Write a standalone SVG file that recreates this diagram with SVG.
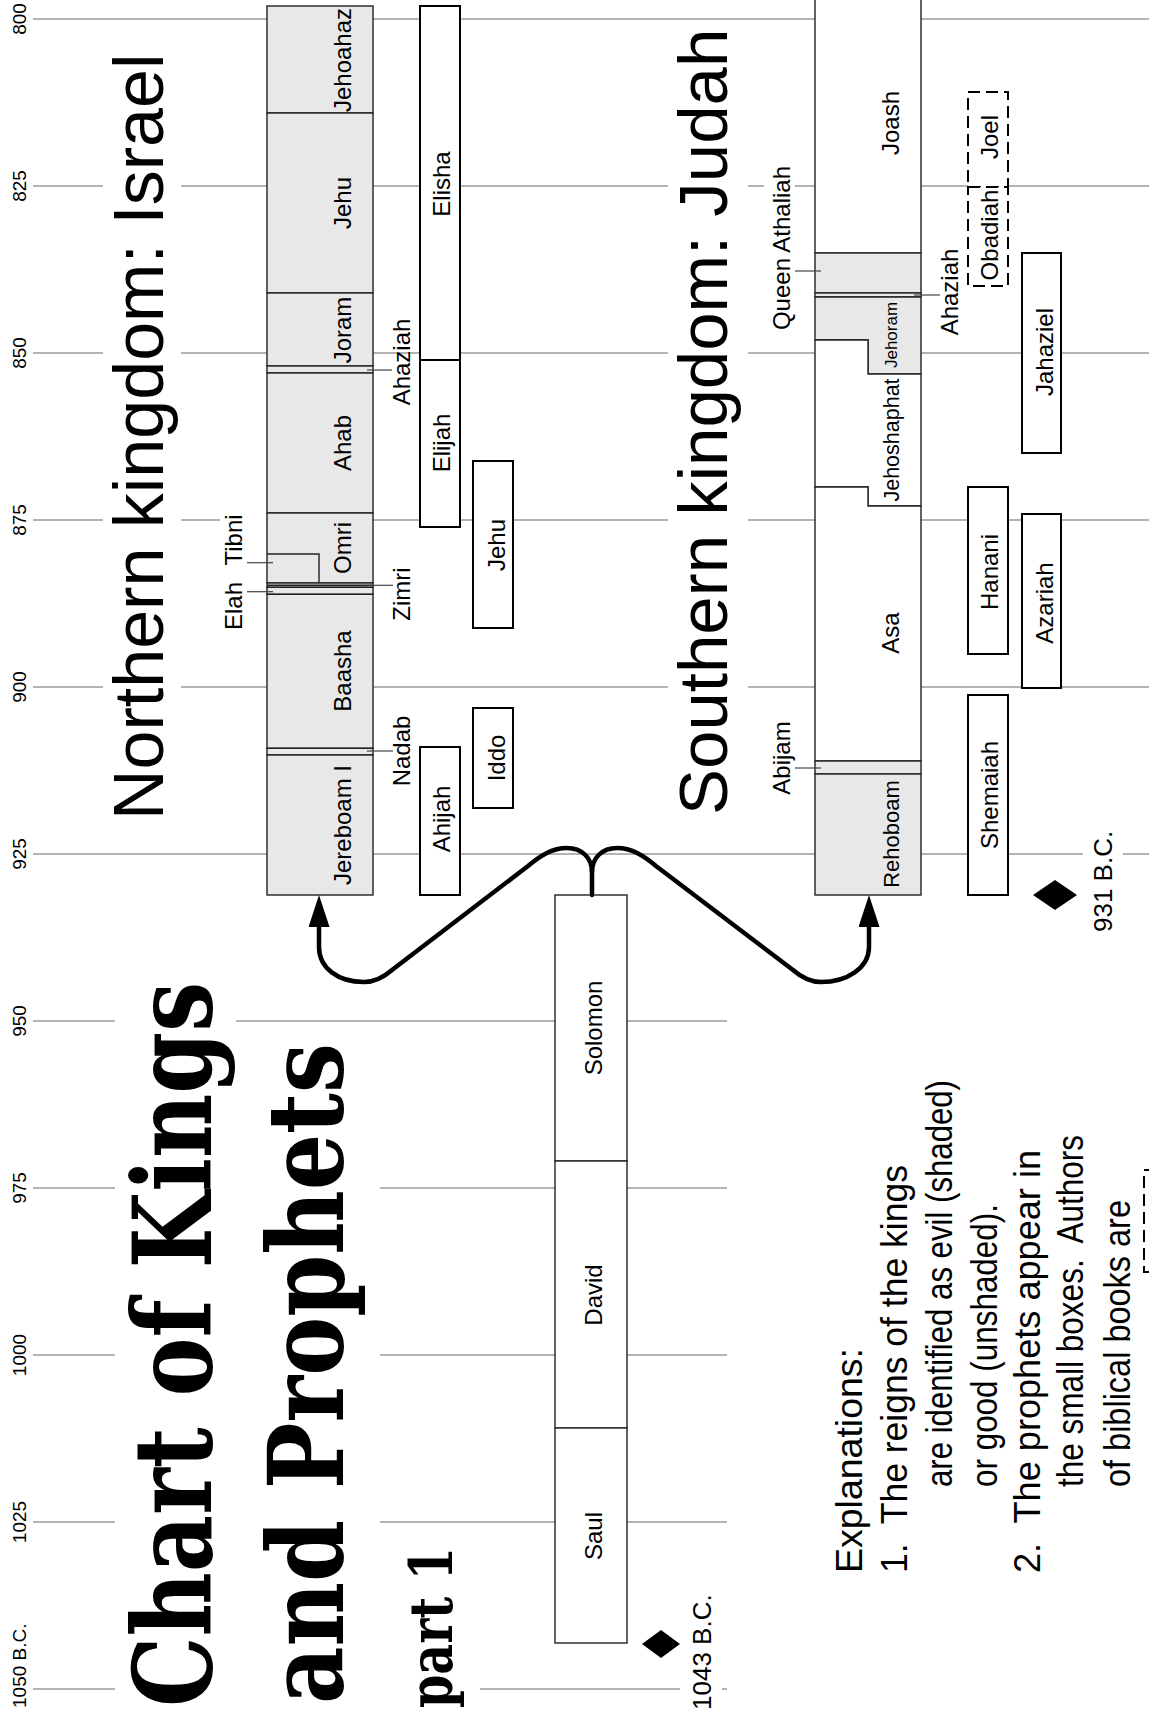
<svg xmlns="http://www.w3.org/2000/svg" width="1149" height="1716" viewBox="0 0 1149 1716">
<style>
.grid{stroke:#9a9a9a;stroke-width:1.3;fill:none}
.bg{fill:#fff;stroke:none}
.king{stroke:#222;stroke-width:1.4;fill:#fff}
.evil{fill:#e8e8e8}
.proph{fill:#fff;stroke:#000;stroke-width:2}
.dash{fill:#fff;stroke:#000;stroke-width:2;stroke-dasharray:12 6}
.lead{stroke:#444;stroke-width:1.2;fill:none}
text{font-family:"Liberation Sans",Arial,sans-serif;fill:#000}
.yr{font-size:19px;text-anchor:middle}
.lbl{font-size:24px;text-anchor:middle}
.big{font-size:70px}
.ttl{font-family:"DejaVu Serif","Liberation Serif",serif;font-weight:bold}
.expl{font-size:37px}
.date{font-size:26px}
.conn{fill:none;stroke:#000;stroke-width:4.5;stroke-linecap:round;stroke-linejoin:round}
</style>
<defs>
<marker id="arrow" markerUnits="userSpaceOnUse" viewBox="0 0 32 21" refX="0" refY="10.5" markerWidth="32" markerHeight="21" orient="auto">
<path d="M0,0 L32,10.5 L0,21 Z" fill="#000"/>
</marker>
</defs>

<g id="grid">
<line class="grid" x1="33" y1="19" x2="1149" y2="19"/>
<line class="grid" x1="33" y1="186" x2="1149" y2="186"/>
<line class="grid" x1="33" y1="353" x2="1149" y2="353"/>
<line class="grid" x1="33" y1="520" x2="1149" y2="520"/>
<line class="grid" x1="33" y1="687" x2="1149" y2="687"/>
<line class="grid" x1="33" y1="854" x2="1149" y2="854"/>
<line class="grid" x1="33" y1="1021" x2="727" y2="1021"/>
<line class="grid" x1="33" y1="1188" x2="727" y2="1188"/>
<line class="grid" x1="33" y1="1355" x2="727" y2="1355"/>
<line class="grid" x1="33" y1="1522" x2="727" y2="1522"/>
<line class="grid" x1="33" y1="1689" x2="727" y2="1689"/>
</g>

<g id="backdrops">
<rect class="bg" x="103" y="50" width="78" height="776"/>
<rect class="bg" x="668" y="24" width="80" height="798"/>
<rect class="bg" x="220" y="512" width="46" height="56"/>
<rect class="bg" x="764" y="158" width="31" height="180"/>
<rect class="bg" x="1083" y="828" width="40" height="108"/>
<rect class="bg" x="680" y="1580" width="42" height="136"/>
<rect class="bg" x="115" y="975" width="121" height="741"/>
<rect class="bg" x="236" y="1035" width="144" height="681"/>
<rect class="bg" x="380" y="1540" width="100" height="176"/>
</g>

<g id="years">
<text class="yr" transform="translate(26,19) rotate(-90)">800</text>
<text class="yr" transform="translate(26,186) rotate(-90)">825</text>
<text class="yr" transform="translate(26,353) rotate(-90)">850</text>
<text class="yr" transform="translate(26,520) rotate(-90)">875</text>
<text class="yr" transform="translate(26,687) rotate(-90)">900</text>
<text class="yr" transform="translate(26,854) rotate(-90)">925</text>
<text class="yr" transform="translate(26,1021) rotate(-90)">950</text>
<text class="yr" transform="translate(26,1188) rotate(-90)">975</text>
<text class="yr" transform="translate(26,1355) rotate(-90)">1000</text>
<text class="yr" transform="translate(26,1522) rotate(-90)">1025</text>
<text class="yr" style="text-anchor:start" transform="translate(26,1708) rotate(-90)">1050 B.C.</text>
</g>

<g id="titles">
<text class="big" transform="translate(163,820) rotate(-90)">Northern kingdom: Israel</text>
<text class="big" style="font-size:69px" transform="translate(727,815) rotate(-90)">Southern kingdom: Judah</text>
<text class="ttl" font-size="108" textLength="725" lengthAdjust="spacingAndGlyphs" transform="translate(211,1707) rotate(-90)">Chart of Kings</text>
<text class="ttl" font-size="104" textLength="661" lengthAdjust="spacingAndGlyphs" transform="translate(343,1704) rotate(-90)">and Prophets</text>
<text class="ttl" font-size="60" textLength="161" lengthAdjust="spacingAndGlyphs" transform="translate(452,1708) rotate(-90)">part 1</text>
</g>

<g id="israel-kings">
<g id="k-jehoahaz"><rect class="king evil" x="267" y="6" width="106" height="107"/><text class="lbl" transform="translate(351,60) rotate(-90)">Jehoahaz</text></g>
<g id="k-jehu"><rect class="king evil" x="267" y="113" width="106" height="180"/><text class="lbl" transform="translate(351,203) rotate(-90)">Jehu</text></g>
<g id="k-joram"><rect class="king evil" x="267" y="293" width="106" height="73"/><text class="lbl" transform="translate(351,330) rotate(-90)">Joram</text></g>
<g id="k-ahaziah-i"><rect class="king evil" x="267" y="366" width="106" height="7"/></g>
<g id="k-ahab"><rect class="king evil" x="267" y="373" width="106" height="140"/><text class="lbl" transform="translate(351,443) rotate(-90)">Ahab</text></g>
<g id="k-omri"><rect class="king evil" x="267" y="513" width="106" height="70"/><text class="lbl" transform="translate(351,548) rotate(-90)">Omri</text></g>
<g id="k-tibni"><path class="king" style="fill:none" d="M267,554 H319 V583"/></g>
<g id="k-zimri"><rect class="king evil" x="267" y="583" width="106" height="4.3"/><line class="king" x1="267" y1="585.3" x2="373" y2="585.3"/></g>
<g id="k-elah"><rect class="king evil" x="267" y="587.3" width="106" height="7"/></g>
<g id="k-baasha"><rect class="king evil" x="267" y="594.3" width="106" height="154"/><text class="lbl" transform="translate(351,671) rotate(-90)">Baasha</text></g>
<g id="k-nadab"><rect class="king evil" x="267" y="748.3" width="106" height="6.7"/></g>
<g id="k-jereboam"><rect class="king evil" x="267" y="755" width="106" height="140"/><text class="lbl" transform="translate(351,825) rotate(-90)">Jereboam I</text></g>
</g>

<g id="israel-side-labels">
<text class="lbl" transform="translate(242,606) rotate(-90)">Elah</text>
<text class="lbl" transform="translate(242,540) rotate(-90)">Tibni</text>
<text class="lbl" transform="translate(410,594) rotate(-90)">Zimri</text>
<text class="lbl" transform="translate(410,751) rotate(-90)">Nadab</text>
<text class="lbl" transform="translate(410,362) rotate(-90)">Ahaziah</text>
</g>

<g id="israel-prophets">
<g id="p-elisha"><rect class="proph" x="420" y="6" width="40" height="354"/><text class="lbl" transform="translate(450,184) rotate(-90)">Elisha</text></g>
<g id="p-elijah"><rect class="proph" x="420" y="360" width="40" height="167"/><text class="lbl" transform="translate(450,443) rotate(-90)">Elijah</text></g>
<g id="p-ahijah"><rect class="proph" x="420" y="747" width="40" height="148"/><text class="lbl" transform="translate(450,819) rotate(-90)">Ahijah</text></g>
<g id="p-jehu"><rect class="proph" x="473" y="461" width="40" height="167"/><text class="lbl" transform="translate(505,545) rotate(-90)">Jehu</text></g>
<g id="p-iddo"><rect class="proph" x="473" y="708" width="40" height="100"/><text class="lbl" transform="translate(505,758) rotate(-90)">Iddo</text></g>
</g>

<g id="judah-kings">
<g id="k-joash"><rect class="king" x="815" y="-5" width="106" height="258"/><text class="lbl" transform="translate(899,123) rotate(-90)">Joash</text></g>
<g id="k-athaliah"><rect class="king evil" x="815" y="253" width="106" height="40"/></g>
<g id="k-ahaziah-j"><rect class="king evil" x="815" y="293" width="106" height="4"/></g>
<g id="k-jehoram"><path class="king evil" d="M815,297 H921 V374 H868 V340 H815 Z"/><text class="lbl" style="font-size:17px" transform="translate(897,335) rotate(-90)">Jehoram</text></g>
<g id="k-jehoshaphat"><path class="king" d="M815,340 H868 V374 H921 V506 H868 V487 H815 Z"/><text class="lbl" style="font-size:21.5px" transform="translate(899,440) rotate(-90)">Jehoshaphat</text></g>
<g id="k-asa"><path class="king" d="M815,487 H868 V506 H921 V761 H815 Z"/><text class="lbl" transform="translate(899,633) rotate(-90)">Asa</text></g>
<g id="k-abijam"><rect class="king evil" x="815" y="761" width="106" height="13"/></g>
<g id="k-rehoboam"><rect class="king evil" x="815" y="774" width="106" height="121"/><text class="lbl" style="font-size:22px" transform="translate(899,834) rotate(-90)">Rehoboam</text></g>
</g>

<g id="judah-side-labels">
<text class="lbl" transform="translate(790,248) rotate(-90)">Queen Athaliah</text>
<text class="lbl" transform="translate(958,292) rotate(-90)">Ahaziah</text>
<text class="lbl" transform="translate(790,758) rotate(-90)">Abijam</text>
</g>

<g id="judah-prophets">
<g id="p-joel"><rect class="dash" x="968" y="92" width="40" height="95"/><text class="lbl" transform="translate(998,137) rotate(-90)">Joel</text></g>
<g id="p-obadiah"><rect class="dash" x="968" y="187" width="40" height="99"/><text class="lbl" transform="translate(998,235) rotate(-90)">Obadiah</text></g>
<g id="p-jahaziel"><rect class="proph" x="1022" y="253" width="39" height="200"/><text class="lbl" transform="translate(1053,352) rotate(-90)">Jahaziel</text></g>
<g id="p-hanani"><rect class="proph" x="968" y="487" width="40" height="167"/><text class="lbl" transform="translate(998,572) rotate(-90)">Hanani</text></g>
<g id="p-azariah"><rect class="proph" x="1022" y="514" width="39" height="174"/><text class="lbl" transform="translate(1053,603) rotate(-90)">Azariah</text></g>
<g id="p-shemaiah"><rect class="proph" x="968" y="695" width="40" height="200"/><text class="lbl" transform="translate(998,795) rotate(-90)">Shemaiah</text></g>
</g>

<g id="united-kings">
<g id="k-solomon"><rect class="king" x="555" y="895" width="72" height="266"/><text class="lbl" transform="translate(602,1028) rotate(-90)">Solomon</text></g>
<g id="k-david"><rect class="king" x="555" y="1161" width="72" height="267"/><text class="lbl" transform="translate(602,1295) rotate(-90)">David</text></g>
<g id="k-saul"><rect class="king" x="555" y="1428" width="72" height="215"/><text class="lbl" transform="translate(602,1536) rotate(-90)">Saul</text></g>
</g>

<g id="dates">
<polygon points="1055,880 1077,895 1055,910 1033,895" fill="#000"/>
<text class="date" transform="translate(1112,932) rotate(-90)">931 B.C.</text>
<polygon points="661,1630 680,1644 661,1658 642,1644" fill="#000"/>
<text class="date" transform="translate(711,1710) rotate(-90)">1043 B.C.</text>
</g>

<g id="connectors">
<line class="lead" x1="247" y1="562.7" x2="273" y2="562.7"/>
<line class="lead" x1="247" y1="591.7" x2="273" y2="591.7"/>
<line class="lead" x1="367" y1="585.3" x2="393" y2="585.3"/>
<line class="lead" x1="367" y1="751" x2="393" y2="751"/>
<line class="lead" x1="367" y1="370" x2="392" y2="370"/>
<line class="lead" x1="795" y1="271" x2="821" y2="271"/>
<line class="lead" x1="914" y1="295" x2="940" y2="295"/>
<line class="lead" x1="795" y1="768" x2="821" y2="768"/>
<path class="conn" marker-end="url(#arrow)" d="M592,895 V872 C592,858 582,848 567,848 C552,848 540,856 528,866 L392,970 C384,977 375,982 364,982 C338,982 319,968 319,947 V927"/>
<path class="conn" marker-end="url(#arrow)" d="M592,872 C592,858 602,848 617,848 C632,848 644,856 656,866 L793,970 C801,977 810,982 821,982 C847,982 869,968 869,947 V927"/>
</g>

<g id="explanations">
<text class="expl" textLength="225" lengthAdjust="spacingAndGlyphs" transform="translate(862,1573) rotate(-90)">Explanations:</text>
<text class="expl" xml:space="preserve" textLength="408" lengthAdjust="spacingAndGlyphs" transform="translate(907,1573) rotate(-90)">1.  The reigns of the kings</text>
<text class="expl" textLength="407" lengthAdjust="spacingAndGlyphs" transform="translate(952,1487) rotate(-90)">are identified as evil (shaded)</text>
<text class="expl" textLength="283" lengthAdjust="spacingAndGlyphs" transform="translate(997,1487) rotate(-90)">or good (unshaded).</text>
<text class="expl" xml:space="preserve" textLength="423" lengthAdjust="spacingAndGlyphs" transform="translate(1040,1573) rotate(-90)">2.  The prophets appear in</text>
<text class="expl" xml:space="preserve" textLength="352" lengthAdjust="spacingAndGlyphs" transform="translate(1083,1487) rotate(-90)">the small boxes.  Authors</text>
<text class="expl" textLength="287" lengthAdjust="spacingAndGlyphs" transform="translate(1130,1487) rotate(-90)">of biblical books are</text>
<rect class="dash" style="fill:none" x="1144" y="1170" width="60" height="102"/>
</g>
</svg>
